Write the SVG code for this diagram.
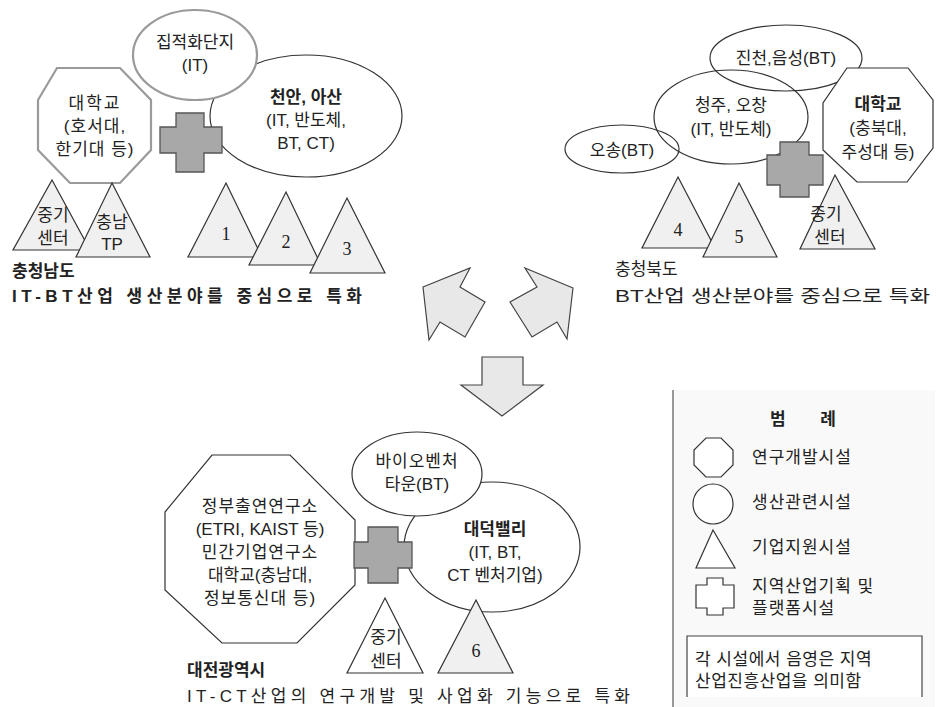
<svg xmlns="http://www.w3.org/2000/svg" width="939" height="707" viewBox="0 0 939 707">
<style>
text{font-family:"Liberation Sans","Noto Sans CJK KR",sans-serif;fill:#222;text-anchor:middle;font-size:17px}
.num{font-family:"Liberation Serif","Noto Sans CJK KR",serif;font-size:18px}
.b{font-weight:bold}
.l{text-anchor:start}
.shape{stroke:#333;stroke-width:1.2;fill:#fff}
.none{fill:none}
.shade{fill:#f0f0f0}
.soft{stroke:#9a9a9a;stroke-width:2.2}
.cross{fill:#a8a8a8;stroke:#555;stroke-width:1.3}
.arrow{fill:#e8e8e8;stroke:#444;stroke-width:1.2;stroke-linejoin:miter}
</style>
<rect width="939" height="707" fill="#fff"/>

<!-- Chungnam -->
<g id="cheonan">
<ellipse class="shape" cx="306" cy="116" rx="96" ry="61"/>
<text class="b" x="306" y="103">천안, 아산</text>
<text x="306" y="126">(IT, 반도체,</text>
<text x="306" y="149">BT, CT)</text>
</g>
<g id="jipjeok">
<ellipse class="shape soft" fill="#f5f5f5" cx="195" cy="55" rx="62" ry="45"/>
<text x="195" y="48">집적화단지</text>
<text x="195" y="71">(IT)</text>
</g>
<g id="univ-cn">
<polygon class="shape soft" points="57,68 120,68 151,100 151,150 120,183 70,183 38,150 38,100"/>
<text x="95" y="109" letter-spacing="2">대학교</text>
<text x="95" y="132" letter-spacing="1">(호서대,</text>
<text x="95" y="155" letter-spacing="1">한기대 등)</text>
</g>
<g id="cross-cn"><path class="cross" d="M176,113 H204 V127 H222 V153 H204 V172 H176 V153 H160 V127 H176 Z"/></g>
<g id="sbc-cn">
<polygon class="shape shade" points="52,180 90,250 13,250"/>
<text x="53" y="221">중기</text>
<text x="53" y="244">센터</text>
</g>
<g id="tp-cn">
<polygon class="shape shade" points="112,183 150,257 76,257"/>
<text x="112" y="228">충남</text>
<text x="112" y="250">TP</text>
</g>
<g id="t1"><polygon class="shape shade" points="226,183 262,257 188,257"/><text class="num" x="226" y="240">1</text></g>
<g id="t2"><polygon class="shape shade" points="286,192 321,265 249,265"/><text class="num" x="286" y="248">2</text></g>
<g id="t3"><polygon class="shape shade" points="347,198 385,273 310,273"/><text class="num" x="347" y="255">3</text></g>
<g id="label-cn">
<text class="l b" x="12" y="277" font-size="20">충청남도</text>
<text class="l b" x="12" y="302" font-size="19" textLength="350" lengthAdjust="spacing">IT-BT산업 생산분야를 중심으로 특화</text>
</g>

<!-- Chungbuk -->
<g id="jincheon">
<ellipse class="shape none" cx="786" cy="58" rx="76" ry="33"/>
<text x="786" y="64" font-size="19">진천,음성(BT)</text>
</g>
<g id="cheongju">
<ellipse class="shape none" cx="731" cy="117" rx="77" ry="47"/>
<text x="731" y="111" font-size="19">청주, 오창</text>
<text x="731" y="135" font-size="19">(IT, 반도체)</text>
</g>
<g id="osong">
<ellipse class="shape none" cx="622" cy="149" rx="57" ry="24"/>
<text x="622" y="156" font-size="19">오송(BT)</text>
</g>
<g id="univ-cb">
<polygon class="shape" points="847,68 908,68 933,100 933,148 907,182 857,182 823,150 823,103"/>
<text class="b" x="878" y="110" font-size="19">대학교</text>
<text x="878" y="134" font-size="19">(충북대,</text>
<text x="878" y="158" font-size="19">주성대 등)</text>
</g>
<g id="cross-cb"><path class="cross" d="M780,142 H809 V155 H823 V185 H809 V197 H780 V185 H767 V155 H780 Z"/></g>
<g id="t4"><polygon class="shape shade" points="678,177 715,248 642,248"/><text class="num" x="678" y="236">4</text></g>
<g id="t5"><polygon class="shape shade" points="739,183 777,257 703,257"/><text class="num" x="739" y="243">5</text></g>
<g id="sbc-cb">
<polygon class="shape shade" points="835,175 875,249 800,249"/>
<text x="826" y="220">중기</text>
<text x="830" y="243">센터</text>
</g>
<g id="label-cb">
<text class="l" x="615" y="275" font-size="20">충청북도</text>
<text class="l" x="615" y="302" font-size="20" textLength="315" lengthAdjust="spacingAndGlyphs">BT산업 생산분야를 중심으로 특화</text>
</g>

<!-- Connectors (arrows) -->
<g id="connectors">
<polygon class="arrow" points="423,287 470,268 460,287 485,302 465,337 440,322 429,340"/>
<polygon class="arrow" points="573,288 525,268 537,287 510,302 532,337 557,322 567,339"/>
<polygon class="arrow" points="482,357 523,357 523,385 543,385 502,416 461,385 482,385"/>
</g>

<!-- Daejeon -->
<g id="research">
<polygon class="shape" points="212,455 290,455 355,520 355,585 297,643 222,643 165,590 165,512"/>
<text x="260" y="512" letter-spacing="1">정부출연연구소</text>
<text x="260" y="535">(ETRI, KAIST 등)</text>
<text x="260" y="558" letter-spacing="1">민간기업연구소</text>
<text x="260" y="581">대학교(충남대,</text>
<text x="260" y="604" letter-spacing="1">정보통신대 등)</text>
</g>
<g id="daedeok">
<ellipse class="shape" cx="492" cy="547" rx="88" ry="65"/>
<text class="b" x="495" y="535">대덕밸리</text>
<text x="495" y="558">(IT, BT,</text>
<text x="495" y="581">CT 벤처기업)</text>
</g>
<g id="biotown">
<ellipse class="shape" cx="417" cy="474" rx="65" ry="42"/>
<text x="417" y="467" letter-spacing="1">바이오벤처</text>
<text x="417" y="490">타운(BT)</text>
</g>
<g id="cross-dj"><path class="cross" d="M368,527 H398 V542 H412 V568 H398 V583 H368 V568 H354 V542 H368 Z"/></g>
<g id="sbc-dj">
<polygon class="shape" points="385,598 423,673 347,673"/>
<text x="386" y="643">중기</text>
<text x="386" y="667">센터</text>
</g>
<g id="t6"><polygon class="shape shade" points="476,600 513,673 438,673"/><text class="num" x="476" y="657">6</text></g>
<g id="label-dj">
<text class="l b" x="187" y="676" font-size="19">대전광역시</text>
<text class="l" x="187" y="702" font-size="18" textLength="443" lengthAdjust="spacing">IT-CT산업의 연구개발 및 사업화 기능으로 특화</text>
</g>

<!-- Legend -->
<g id="legend">
<rect x="673" y="390" width="262" height="320" fill="#f9f9f9"/>
<line x1="673" y1="390" x2="673" y2="707" stroke="#777" stroke-width="1.5"/>
<text class="b" x="803" y="425" word-spacing="30">범 례</text>
<polygon class="shape" points="706,438 721,438 733,450 733,465 721,477 706,477 694,465 694,450"/>
<text class="l" x="752" y="463" letter-spacing="1">연구개발시설</text>
<circle class="shape" cx="713" cy="504" r="20"/>
<text class="l" x="752" y="508" letter-spacing="1">생산관련시설</text>
<polygon class="shape" points="713,530 735,568 696,568"/>
<text class="l" x="752" y="553" letter-spacing="1">기업지원시설</text>
<path class="shape" d="M707,578 H723 V585 H734 V608 H723 V615 H707 V608 H696 V585 H707 Z"/>
<text class="l" x="752" y="592" letter-spacing="1">지역산업기획 및</text>
<text class="l" x="752" y="614" letter-spacing="1">플랫폼시설</text>
<path d="M687,697 V636 H922 V697" fill="#fff" stroke="#444" stroke-width="1.2"/>
<text class="l" x="695" y="665" letter-spacing="0.5">각 시설에서 음영은 지역</text>
<text class="l" x="695" y="687" letter-spacing="0.5">산업진흥산업을 의미함</text>
</g>
</svg>
